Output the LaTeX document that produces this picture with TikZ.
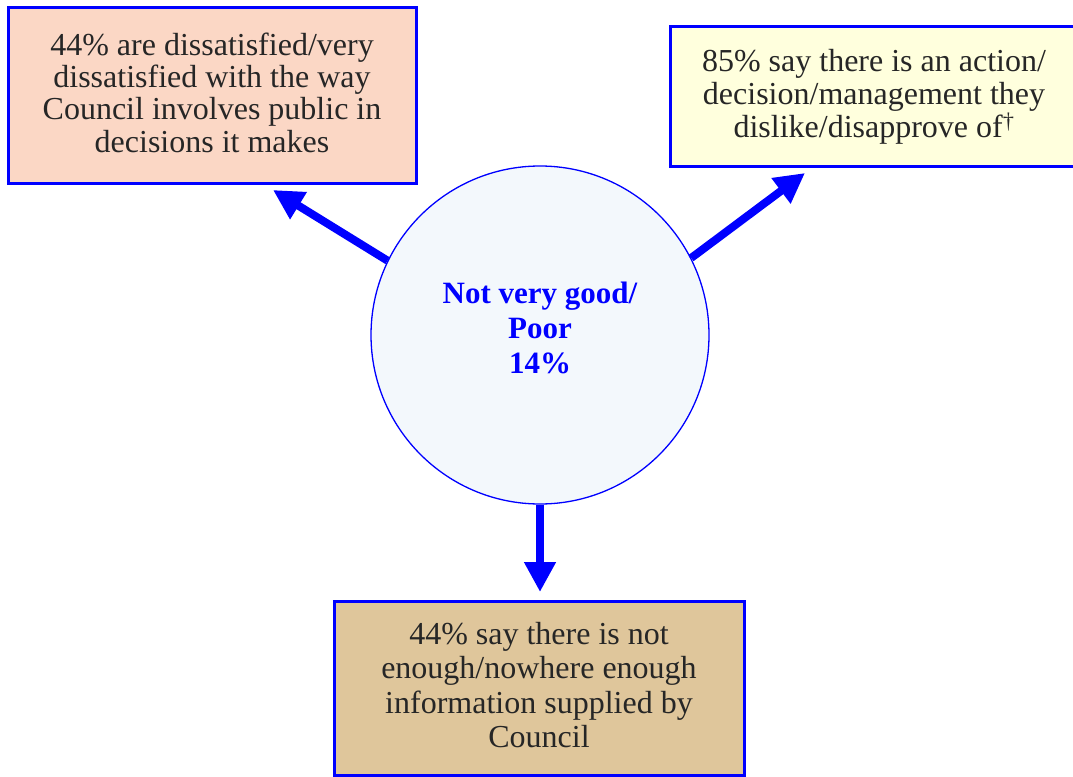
\documentclass[tikz,border=0pt]{standalone}
\newif\ifpala
\IfFileExists{mathpazo.sty}{\IfFileExists{pplr8t.tfm}{\palatrue}{}}{}
\ifpala
  \usepackage[T1]{fontenc}
  \usepackage{mathpazo}
\else
  \usepackage{fontspec}
  \setmainfont{Liberation Serif}
\fi
\usepackage{tikz}
\usetikzlibrary{arrows.meta,positioning,calc}
\definecolor{cblue}{RGB}{0,0,255}
\definecolor{csalmon}{RGB}{251,215,197}
\definecolor{ccream}{RGB}{255,255,221}
\definecolor{ctan}{RGB}{223,198,155}
\definecolor{cpale}{RGB}{243,248,252}
\tikzset{
  resbox/.style={draw=cblue, line width=3pt, align=center, text=black!85,
                 font=\fontsize{32}{33}\selectfont, inner sep=0pt},
  hub/.style={circle, draw=cblue, line width=1.3pt, fill=cpale, minimum size=338pt,
              align=center, text=cblue, font=\fontsize{31}{35}\selectfont\bfseries},
  outarr/.style={-{Triangle[length=30pt,width=30pt]}, cblue, line width=8pt},
}
\begin{document}
\begin{tikzpicture}[x=1pt,y=-1pt]
    \useasboundingbox (0,0) rectangle (1073,776);
    \node[hub] (c) at (540,335) {Not very good/\\ Poor\\ 14\%\\[-21pt]\mbox{}};
    \node[resbox, fill=csalmon, minimum width=408pt, minimum height=175pt,
          font=\fontsize{32}{32.3}\selectfont] (left) at (212,95.5)
         {44\% are dissatisfied/very\\ dissatisfied with the way\\ Council involves public in\\ decisions it makes\\[-26pt]\mbox{}};
    \node[resbox, fill=ccream, minimum width=408pt, minimum height=139pt] (right) at (874,96.5)
         {85\% say there is an action/\\ decision/management they\\ dislike/disapprove of\textsuperscript{\textdagger}};
    \node[resbox, fill=ctan, minimum width=410pt, minimum height=174pt,
          font=\fontsize{32}{34.5}\selectfont] (bottom) at (539,688)
         {44\% say there is not\\ enough/nowhere enough\\ information supplied by\\ Council\\[-28pt]\mbox{}};
    \coordinate (lt) at (273,190);
    \coordinate (rt) at (805,173);
    \coordinate (bt) at (540,592);
    \draw[outarr] (c.154) -- (lt);
    \draw[outarr] (c.27) -- (rt);
    \draw[outarr] (c.south) -- (bt);
  \end{tikzpicture}
\end{document}
